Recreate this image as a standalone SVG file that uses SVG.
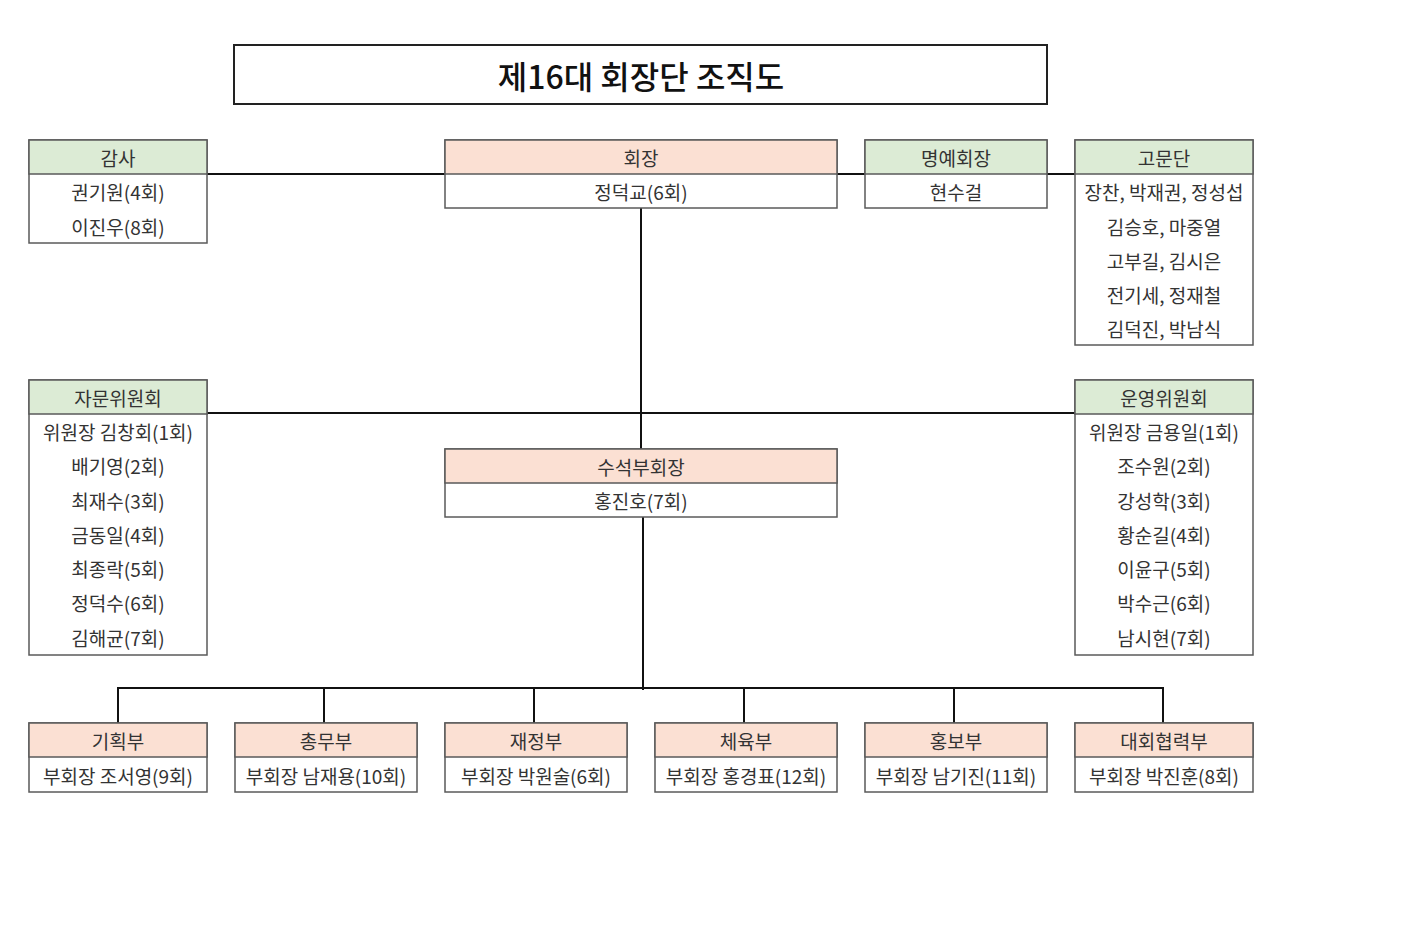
<svg xmlns="http://www.w3.org/2000/svg" width="1402" height="949" viewBox="0 0 1402 949">
<style>
.bg{fill:#ffffff}
.box{fill:#ffffff;stroke:#5a5a5a;stroke-width:1.5}
.hg{fill:#dcebd5;stroke:#5a5a5a;stroke-width:1.5}
.hp{fill:#fbe0d3;stroke:#5a5a5a;stroke-width:1.5}
.t{font-family:"Noto Sans CJK KR","Noto Sans",sans-serif;font-size:19px;fill:#333333;text-anchor:middle;dominant-baseline:central}
.title{font-family:"Noto Sans CJK KR","Noto Sans",sans-serif;font-size:32px;font-weight:500;fill:#111;text-anchor:middle;dominant-baseline:central}
.c{stroke:#111;stroke-width:2;fill:none}
</style>
<rect class="bg" x="0" y="0" width="1402" height="949"/>

<g id="connectors">
<line class="c" x1="207" y1="174" x2="445" y2="174"/>
<line class="c" x1="837" y1="174" x2="865" y2="174"/>
<line class="c" x1="1047" y1="174" x2="1075" y2="174"/>
<line class="c" x1="641" y1="208" x2="641" y2="449"/>
<line class="c" x1="207" y1="413" x2="1075" y2="413"/>
<line class="c" x1="643" y1="517" x2="643" y2="690"/>
<polyline class="c" points="118,723 118,688 1163,688 1163,723"/>
<line class="c" x1="324" y1="688" x2="324" y2="723"/>
<line class="c" x1="534" y1="688" x2="534" y2="723"/>
<line class="c" x1="744" y1="688" x2="744" y2="723"/>
<line class="c" x1="954" y1="688" x2="954" y2="723"/>
</g>

<g id="title">
<rect x="234" y="45" width="813" height="59" fill="#fff" stroke="#222" stroke-width="2"/>
<text class="title" x="641" y="75">제16대 회장단 조직도</text>
</g>

<g id="gamsa">
<rect class="box" x="29" y="140" width="178" height="103"/>
<rect class="hg" x="29" y="140" width="178" height="34"/>
<text class="t" x="118" y="157">감사</text>
<text class="t" x="118" y="191">권기원(4회)</text>
<text class="t" x="118" y="226">이진우(8회)</text>
</g>

<g id="hoejang">
<rect class="box" x="445" y="140" width="392" height="68"/>
<rect class="hp" x="445" y="140" width="392" height="34"/>
<text class="t" x="641" y="157">회장</text>
<text class="t" x="641" y="191">정덕교(6회)</text>
</g>

<g id="myeongye">
<rect class="box" x="865" y="140" width="182" height="68"/>
<rect class="hg" x="865" y="140" width="182" height="34"/>
<text class="t" x="956" y="157">명예회장</text>
<text class="t" x="956" y="191">현수걸</text>
</g>

<g id="gomundan">
<rect class="box" x="1075" y="140" width="178" height="205"/>
<rect class="hg" x="1075" y="140" width="178" height="34"/>
<text class="t" x="1164" y="157">고문단</text>
<text class="t" x="1164" y="191">장찬, 박재권, 정성섭</text>
<text class="t" x="1164" y="226">김승호, 마중열</text>
<text class="t" x="1164" y="260">고부길, 김시은</text>
<text class="t" x="1164" y="294">전기세, 정재철</text>
<text class="t" x="1164" y="328">김덕진, 박남식</text>
</g>

<g id="jamun">
<rect class="box" x="29" y="380" width="178" height="275"/>
<rect class="hg" x="29" y="380" width="178" height="34"/>
<text class="t" x="118" y="397">자문위원회</text>
<text class="t" x="118" y="431">위원장 김창회(1회)</text>
<text class="t" x="118" y="465">배기영(2회)</text>
<text class="t" x="118" y="500">최재수(3회)</text>
<text class="t" x="118" y="534">금동일(4회)</text>
<text class="t" x="118" y="568">최종락(5회)</text>
<text class="t" x="118" y="602">정덕수(6회)</text>
<text class="t" x="118" y="637">김해균(7회)</text>
</g>

<g id="unyeong">
<rect class="box" x="1075" y="380" width="178" height="275"/>
<rect class="hg" x="1075" y="380" width="178" height="34"/>
<text class="t" x="1164" y="397">운영위원회</text>
<text class="t" x="1164" y="431">위원장 금용일(1회)</text>
<text class="t" x="1164" y="465">조수원(2회)</text>
<text class="t" x="1164" y="500">강성학(3회)</text>
<text class="t" x="1164" y="534">황순길(4회)</text>
<text class="t" x="1164" y="568">이윤구(5회)</text>
<text class="t" x="1164" y="602">박수근(6회)</text>
<text class="t" x="1164" y="637">남시현(7회)</text>
</g>

<g id="suseok">
<rect class="box" x="445" y="449" width="392" height="68"/>
<rect class="hp" x="445" y="449" width="392" height="34"/>
<text class="t" x="641" y="466">수석부회장</text>
<text class="t" x="641" y="500">홍진호(7회)</text>
</g>

<g id="gihoek">
<rect class="box" x="29" y="723" width="178" height="69"/>
<rect class="hp" x="29" y="723" width="178" height="34"/>
<text class="t" x="118" y="740">기획부</text>
<text class="t" x="118" y="775">부회장 조서영(9회)</text>
</g>

<g id="chongmu">
<rect class="box" x="235" y="723" width="182" height="69"/>
<rect class="hp" x="235" y="723" width="182" height="34"/>
<text class="t" x="326" y="740">총무부</text>
<text class="t" x="326" y="775">부회장 남재용(10회)</text>
</g>

<g id="jaejeong">
<rect class="box" x="445" y="723" width="182" height="69"/>
<rect class="hp" x="445" y="723" width="182" height="34"/>
<text class="t" x="536" y="740">재정부</text>
<text class="t" x="536" y="775">부회장 박원술(6회)</text>
</g>

<g id="cheyuk">
<rect class="box" x="655" y="723" width="182" height="69"/>
<rect class="hp" x="655" y="723" width="182" height="34"/>
<text class="t" x="746" y="740">체육부</text>
<text class="t" x="746" y="775">부회장 홍경표(12회)</text>
</g>

<g id="hongbo">
<rect class="box" x="865" y="723" width="182" height="69"/>
<rect class="hp" x="865" y="723" width="182" height="34"/>
<text class="t" x="956" y="740">홍보부</text>
<text class="t" x="956" y="775">부회장 남기진(11회)</text>
</g>

<g id="daehoe">
<rect class="box" x="1075" y="723" width="178" height="69"/>
<rect class="hp" x="1075" y="723" width="178" height="34"/>
<text class="t" x="1164" y="740">대회협력부</text>
<text class="t" x="1164" y="775">부회장 박진훈(8회)</text>
</g>
</svg>
